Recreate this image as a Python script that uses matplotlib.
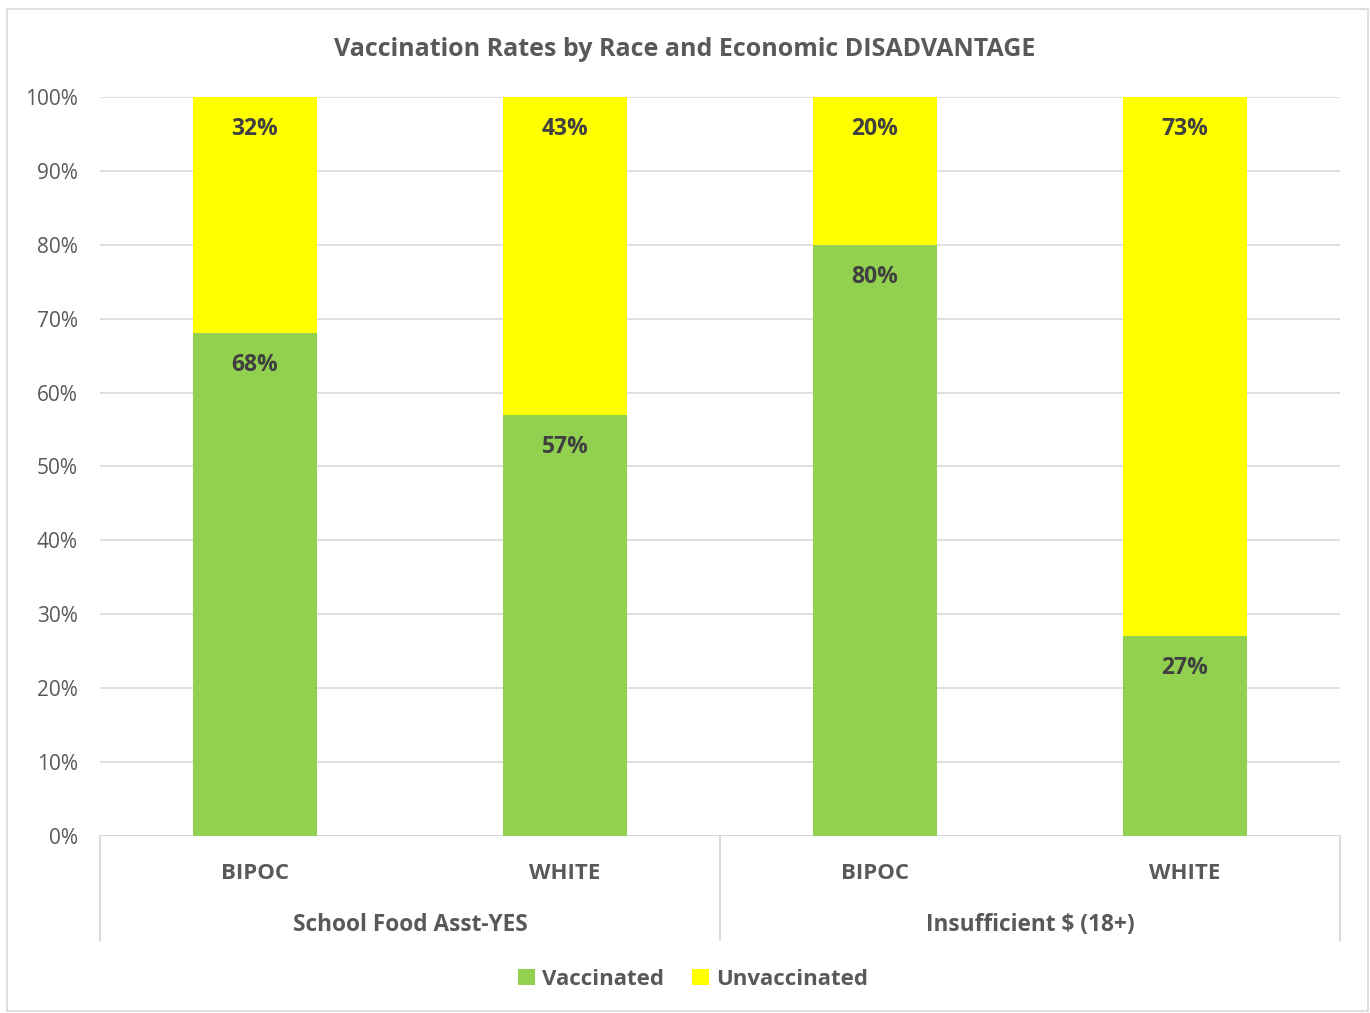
import matplotlib.pyplot as plt
from matplotlib.patches import Rectangle
from matplotlib.lines import Line2D
import numpy as np

plt.rcParams["font.family"] = ["Open Sans", "DejaVu Sans"]

# data
races = ["BIPOC", "WHITE", "BIPOC", "WHITE"]
groups = ["School Food Asst-YES", "Insufficient $ (18+)"]
vaccinated = [68, 57, 80, 27]
unvaccinated = [32, 43, 20, 73]

GREEN = "#92d050"
YELLOW = "#ffff00"
TEXT = "#595959"
GRID = "#d9d9d9"

fig = plt.figure(figsize=(13.7, 10.13), dpi=100)
ax = fig.add_axes([100 / 1370, 177 / 1013, 1240 / 1370, 739 / 1013])

# outer chart border
fig.patches.append(Rectangle((7 / 1370, 2 / 1013), 1361 / 1370, 1002 / 1013,
                             transform=fig.transFigure, fill=False,
                             edgecolor=GRID, linewidth=1.2))

x = np.arange(len(races))
w = 0.4
vac = np.array(vaccinated)
unv = np.array(unvaccinated)
ax.bar(x, vac, w, color=GREEN, label="Vaccinated", zorder=2)
ax.bar(x, unv, w, bottom=vac, color=YELLOW, label="Unvaccinated", zorder=2)

for xi, v, u in zip(x, vac, unv):
    ax.text(xi, v - 4.3, f"{v}%", ha="center", va="center", fontsize=16.5,
            fontweight="bold", color="#404040", zorder=3)
    ax.text(xi, 100 - 4.3, f"{u}%", ha="center", va="center", fontsize=16.5,
            fontweight="bold", color="#404040", zorder=3)

ax.set_xlim(-0.5, len(races) - 0.5)
ax.set_ylim(0, 100)
ax.set_yticks(np.arange(0, 101, 10))
ax.set_yticklabels([f"{t}%" for t in range(0, 101, 10)])
ax.tick_params(axis="y", length=0, labelsize=15, labelcolor=TEXT, pad=16)
ax.tick_params(axis="x", length=0, labelbottom=False)
ax.grid(axis="y", color=GRID, linewidth=1.2, zorder=0)
for s in ax.spines.values():
    s.set_visible(False)
ax.axhline(0, color=GRID, linewidth=1.5, zorder=1)

# category axis: race labels, group labels and separators
trans = ax.get_xaxis_transform()
for xi, r in zip(x, races):
    ax.text(xi, -0.051, r, transform=trans, ha="center", va="center",
            fontsize=16, fontweight="bold", color=TEXT)
for i, g in enumerate(groups):
    ax.text(2 * i + 0.5, -0.121, g, transform=trans, ha="center", va="center",
            fontsize=16.3, fontweight="bold", color=TEXT)
for xv in [-0.5, 1.5, 3.5]:
    ax.add_line(Line2D([xv, xv], [0, -0.141], transform=trans, color=GRID,
                       linewidth=1.5, clip_on=False))

fig.text(0.5, 1 - 49 / 1013, "Vaccination Rates by Race and Economic DISADVANTAGE",
         ha="center", va="center", fontsize=18, fontweight="bold", color=TEXT)

leg = fig.legend(loc="center", bbox_to_anchor=(693 / 1370, 1 - 979 / 1013), ncol=2,
                 frameon=False, fontsize=16, handlelength=0.75, handleheight=0.75,
                 handletextpad=0.3, columnspacing=1.3)
for t in leg.get_texts():
    t.set_color(TEXT)
    t.set_fontweight("bold")

fig.savefig("out.png", dpi=100)
